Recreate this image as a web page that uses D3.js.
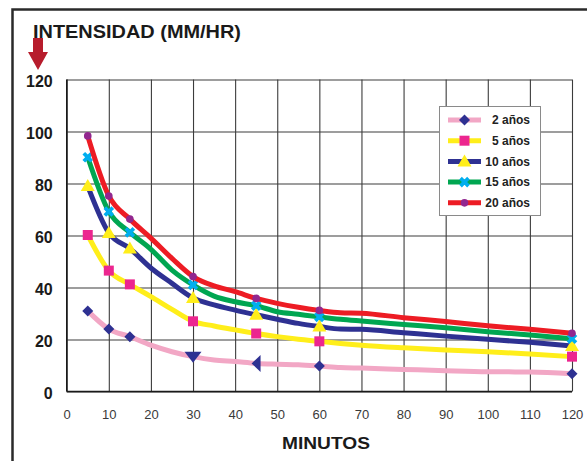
<!DOCTYPE html>
<html>
<head>
<meta charset="utf-8">
<script src="https://cdn.jsdelivr.net/npm/d3@7"></script>
<style>
  body { margin: 0; background: #fff; }
  text { font-family: "Liberation Sans", Arial, sans-serif; }
</style>
</head>
<body>
<script>
// datos (minutos vs intensidad mm/hr)
const minutos = [5, 10, 15, 20, 25, 30, 35, 40, 45, 50, 55, 60, 65, 70, 80, 90, 100, 110, 120];
const anos2  = [31, 24, 21.1, 17.8, 15.3, 13.4, 12.1, 11.5, 10.8, 10.5, 10.3, 9.8, 9.2, 9.0, 8.5, 8.0, 7.6, 7.5, 6.8];
const anos5  = [60.2, 46.5, 41.2, 36.5, 31.6, 27, 25.2, 23.7, 22.3, 21.1, 20.1, 19.3, 18.5, 17.8, 16.8, 16.0, 15.3, 14.4, 13.4];
const anos10 = [79, 61, 55, 47.5, 41.6, 36, 33.3, 31.3, 29.5, 27.8, 26.2, 25, 24.0, 23.9, 22.6, 21.3, 20.1, 18.9, 17.5];
const anos15 = [90.1, 69.2, 61.2, 54.7, 46.7, 41, 36.7, 34.5, 33, 30.7, 29.7, 28.7, 27.8, 27.1, 25.8, 24.5, 23, 21.7, 20.3];
const anos20 = [98.3, 75.2, 66.3, 59, 51.2, 44.2, 40.6, 38.4, 35.8, 33.9, 32.4, 31.2, 30.3, 30.1, 28.4, 26.9, 25.3, 23.9, 22.4];
const nombres = ["2 años", "5 años", "10 años", "15 años", "20 años"];
const conMarca = [5, 10, 15, 30, 45, 60, 120];
const marcas2 = ["rombo", "rombo", "rombo", "abajo", "izq", "rombo", "rombo"];
const xTicks = [0, 10, 20, 30, 40, 50, 60, 70, 80, 90, 100, 110, 120];
const yTicks = [0, 20, 40, 60, 80, 100, 120];

const series = [anos2, anos5, anos10, anos15, anos20];
const lineColor = ["#f2a7c5", "#ffee1a", "#2e3192", "#00a651", "#ed1c24"];
const markColor = ["#2e3192", "#ec268f", "#ffee1a", "#00aeef", "#92278f"];
const markType = ["rombo", "cuadro", "tri", "equis", "circulo"];

const shapes = {
  rombo: "M0,-5.5L5.5,0L0,5.5L-5.5,0Z",
  cuadro: "M-5,-5H5V5H-5Z",
  tri: "M0,-7L7,5L-7,5Z",
  abajo: "M-8.5,-5H8.5L0,6Z",
  izq: "M-4.6,0L4.4,-8.5V8.5Z",
  equis: d3.symbol().type(d3.symbolCross).size(70)(),
  circulo: d3.symbol().type(d3.symbolCircle).size(46)()
};

const svg = d3.select("body").append("svg")
    .attr("width", 587)
    .attr("height", 461);

// marco exterior
svg.append("rect")
    .attr("x", 12.5).attr("y", 9.5)
    .attr("width", 600).attr("height", 470)
    .attr("fill", "none")
    .attr("stroke", "#2a2a2a")
    .attr("stroke-width", 2.5);

const x = d3.scaleLinear().domain([0, 120]).range([66.7, 572]);
const y = d3.scaleLinear().domain([0, 120]).range([391.5, 79.5]);

// rejilla + etiquetas
const gx = svg.append("g")
    .attr("transform", `translate(0,${y(0)})`)
    .call(d3.axisBottom(x).tickValues(xTicks).tickSize(-(y(0) - y(120))).tickPadding(18));
gx.select(".domain").remove();
gx.selectAll("line").attr("stroke", "#3c3c3c").attr("stroke-width", 1.1);
gx.selectAll("text").attr("font-size", 13).attr("fill", "#3a3a3a");

const gy = svg.append("g")
    .attr("transform", `translate(${x(0)},0)`)
    .call(d3.axisLeft(y).tickValues(yTicks).tickSize(-(x(120) - x(0))).tickPadding(14));
gy.select(".domain").remove();
gy.selectAll("line").attr("stroke", "#3c3c3c").attr("stroke-width", 1.1);
gy.selectAll("text").attr("font-size", 16).attr("font-weight", "bold")
    .attr("fill", "#1a1a1a").attr("dy", "0.42em");

// ejes principales
svg.append("line").attr("x1", x(0)).attr("x2", x(0)).attr("y1", y(0)).attr("y2", y(120))
    .attr("stroke", "#1a1a1a").attr("stroke-width", 1.4);
svg.append("line").attr("x1", x(0)).attr("x2", x(120)).attr("y1", y(0)).attr("y2", y(0))
    .attr("stroke", "#1a1a1a").attr("stroke-width", 1.4);

const line = d3.line()
    .x(d => x(d[0]))
    .y(d => y(d[1]))
    .curve(d3.curveMonotoneX);

for (let s = 0; s < series.length; s++) {
    let pts = minutos.map((m, i) => [m, series[s][i]]);
    svg.append("path")
        .attr("d", line(pts))
        .attr("fill", "none")
        .attr("stroke", lineColor[s])
        .attr("stroke-width", 5)
        .attr("stroke-linejoin", "round");

    let marks = pts.filter(p => conMarca.includes(p[0]));
    for (let i = 0; i < marks.length; i++) {
        let tipo = s == 0 ? marcas2[i] : markType[s];
        svg.append("path")
            .attr("d", shapes[tipo])
            .attr("transform", `translate(${x(marks[i][0])},${y(marks[i][1])})` + (tipo == "equis" ? " rotate(45)" : ""))
            .attr("fill", markColor[s]);
    }
}

// leyenda
const leg = svg.append("g");
leg.append("rect")
    .attr("x", 439.5).attr("y", 106.5)
    .attr("width", 101).attr("height", 109)
    .attr("fill", "#fff")
    .attr("stroke", "#8a8a8a");

for (let s = 0; s < nombres.length; s++) {
    let ly = 120 + s * 20.7;
    leg.append("line")
        .attr("x1", 448).attr("x2", 481)
        .attr("y1", ly).attr("y2", ly)
        .attr("stroke", lineColor[s])
        .attr("stroke-width", 5);
    leg.append("path")
        .attr("d", shapes[markType[s]])
        .attr("transform", `translate(464.5,${ly})` + (markType[s] == "equis" ? " rotate(45)" : ""))
        .attr("fill", markColor[s]);
    leg.append("text")
        .attr("x", 530).attr("y", ly + 4.3)
        .attr("text-anchor", "end")
        .attr("font-size", 12)
        .attr("font-weight", "bold")
        .attr("fill", "#222")
        .text(nombres[s]);
}

// titulos
svg.append("text")
    .attr("x", 33).attr("y", 38)
    .attr("font-size", 18).attr("font-weight", "bold")
    .attr("fill", "#1a1a1a")
    .attr("textLength", 208).attr("lengthAdjust", "spacingAndGlyphs")
    .text("INTENSIDAD (MM/HR)");

svg.append("text")
    .attr("x", 282).attr("y", 449)
    .attr("font-size", 17).attr("font-weight", "bold")
    .attr("fill", "#1a1a1a")
    .attr("textLength", 88).attr("lengthAdjust", "spacingAndGlyphs")
    .text("MINUTOS");

// flecha roja
svg.append("path")
    .attr("d", "M33,38H43V52H48L38,70L28,52H33Z")
    .attr("fill", "#b71c2c");
</script>
</body>
</html>
